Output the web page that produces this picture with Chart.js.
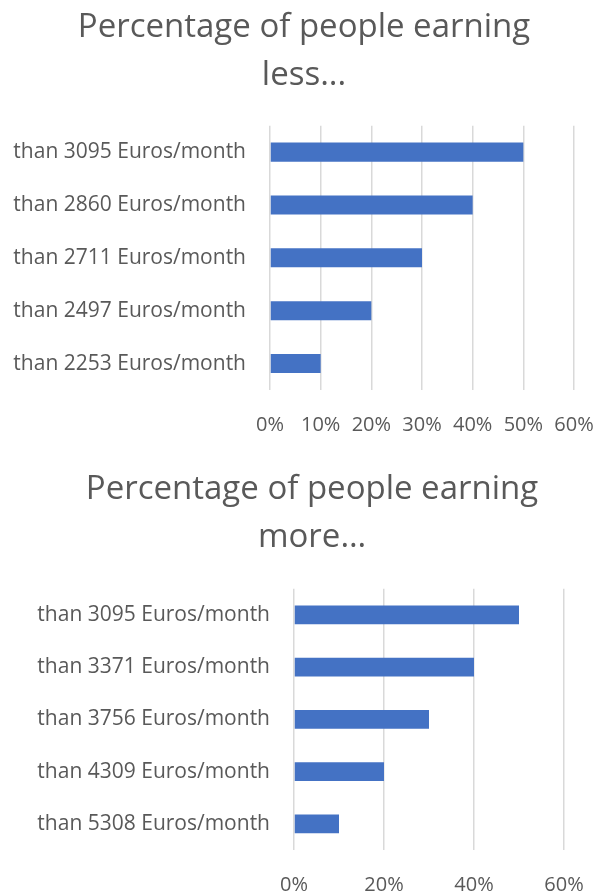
<!DOCTYPE html>
<html>
<head>
<meta charset="utf-8">
<script src="https://cdn.jsdelivr.net/npm/chart.js@4"></script>
<style>
  body { margin: 0; background: #fff; }
  canvas { display: block; }
</style>
</head>
<body>
<canvas id="lessChart" width="598" height="445"></canvas>
<canvas id="moreChart" width="598" height="450"></canvas>
<script>
// data
var lessLabels = ['than 3095 Euros/month', 'than 2860 Euros/month', 'than 2711 Euros/month', 'than 2497 Euros/month', 'than 2253 Euros/month'];
var lessValues = [50, 40, 30, 20, 10];
var moreLabels = ['than 3095 Euros/month', 'than 3371 Euros/month', 'than 3756 Euros/month', 'than 4309 Euros/month', 'than 5308 Euros/month'];
var moreValues = [50, 40, 30, 20, 10];
var lessTitle = ['Percentage of people earning', 'less...'];
var moreTitle = ['Percentage of people earning', 'more\u2026'];

var textColor = '#595959';
var fontFamily = 'Open Sans';

function makeChart(id, labels, values, title, step, cfg) {
    var ctx = document.getElementById(id).getContext('2d');
    return new Chart(ctx, {
        type: 'bar',
        data: {
            labels: labels,
            datasets: [{
                data: values,
                backgroundColor: '#4472c4',
                barPercentage: 0.36,
                categoryPercentage: 1
            }]
        },
        options: {
            indexAxis: 'y',
            responsive: false,
            animation: false,
            layout: { padding: { left: cfg.left, right: 0, top: 0, bottom: 0 } },
            plugins: {
                legend: { display: false },
                tooltip: { enabled: false },
                title: {
                    display: true,
                    text: title,
                    color: textColor,
                    font: { family: fontFamily, size: 33, weight: 'normal', lineHeight: 1.45 },
                    padding: { top: cfg.titleTop, bottom: cfg.titleBottom }
                }
            },
            scales: {
                x: {
                    min: 0,
                    max: 60,
                    ticks: {
                        stepSize: step,
                        color: textColor,
                        font: { family: fontFamily, size: 20 },
                        padding: cfg.xPad,
                        callback: function(v) { return v + '%'; }
                    },
                    grid: { color: '#d9d9d9', lineWidth: 1.5, drawTicks: false },
                    border: { display: false },
                    afterFit: function(scale) {
                        scale.height = cfg.xHeight;
                        scale.paddingLeft = 0;
                        scale.paddingRight = cfg.rightGap;
                    }
                },
                y: {
                    ticks: {
                        color: textColor,
                        font: { family: fontFamily, size: 21 },
                        padding: 24
                    },
                    grid: { display: false, drawTicks: false },
                    border: { display: false },
                    afterFit: function(scale) { scale.width = cfg.yWidth; }
                }
            }
        }
    });
}

makeChart('lessChart', lessLabels, lessValues, lessTitle, 10,
    { left: 10, rightGap: 24, titleTop: 4, titleBottom: 26, xHeight: 55, xPad: 23, yWidth: 260 });
makeChart('moreChart', moreLabels, moreValues, moreTitle, 20,
    { left: 26, rightGap: 34, titleTop: 21, titleBottom: 27, xHeight: 45, xPad: 23, yWidth: 268 });
</script>
</body>
</html>
